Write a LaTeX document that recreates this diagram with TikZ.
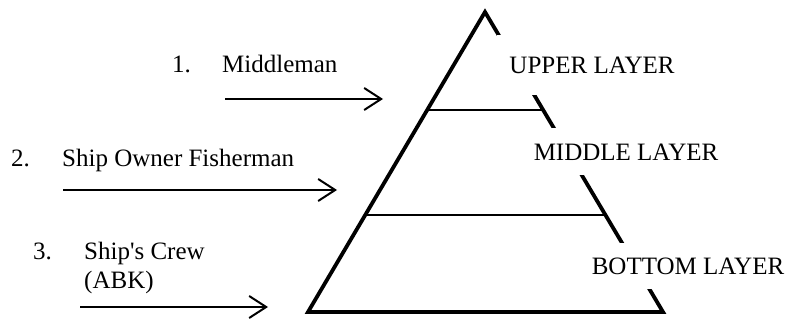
\documentclass[tikz,border=0pt]{standalone}
\usepackage{fontspec}
\setmainfont{Liberation Serif}
\newfontfamily\upquote{Liberation Serif}[Ligatures=TeXOff]
\usetikzlibrary{arrows.meta,calc}
\tikzset{
  base/.style={font=\fontsize{25}{29}\selectfont, inner sep=0pt, text=black},
  lbl/.style={base, anchor=base west},
  layer/.style={base, fill=white, inner xsep=12pt, anchor=center},
  side/.style={line width=3.8pt, line join=miter},
  rung/.style={line width=2.8pt},
  arr/.style={-{Straight Barb[length=17pt,width=22pt,line width=2pt]}, line width=2.6pt},
}
\begin{document}
\begin{tikzpicture}[x=1pt,y=-1pt]
  \useasboundingbox (0,0) rectangle (789,320);
  % pyramid
  \coordinate (apex) at (485,12);
  \coordinate (bl) at (308,312);
  \coordinate (br) at (663,312);
  \draw[side] (bl) -- (apex) -- (br) -- cycle;
  \draw[rung] ($(apex)!0.327!(bl)$) -- ($(apex)!0.327!(br)$);
  \draw[rung] ($(apex)!0.677!(bl)$) -- ($(apex)!0.677!(br)$);
  % layer names
  \node[layer,minimum height=60pt] (upper) at (592,65.5) {UPPER LAYER};
  \node[layer,minimum height=47pt] (middle) at (626,152) {MIDDLE LAYER};
  \node[layer,minimum height=45pt] (bottom) at (688,266) {BOTTOM LAYER};
  % actors
  \node[lbl] (n1) at (172,73) {1.};
  \node[lbl] (mid) at (222,73) {Middleman};
  \node[lbl] (n2) at (11,167) {2.};
  \node[lbl] (own) at (62,167) {Ship Owner Fisherman};
  \node[lbl] (n3) at (33,259) {3.};
  \node[lbl] (crew) at (84,259) {{\upquote Ship's} Crew};
  \node[lbl] (abk) at (84,288) {(ABK)};
  % arrows
  \coordinate (a1s) at (225,99);  \coordinate (a1e) at (383,99);
  \coordinate (a2s) at (63,190);  \coordinate (a2e) at (337,190);
  \coordinate (a3s) at (80,307);  \coordinate (a3e) at (268,307);
  \draw[arr] (a1s) -- (a1e);
  \draw[arr] (a2s) -- (a2e);
  \draw[arr] (a3s) -- (a3e);
\end{tikzpicture}
\end{document}
